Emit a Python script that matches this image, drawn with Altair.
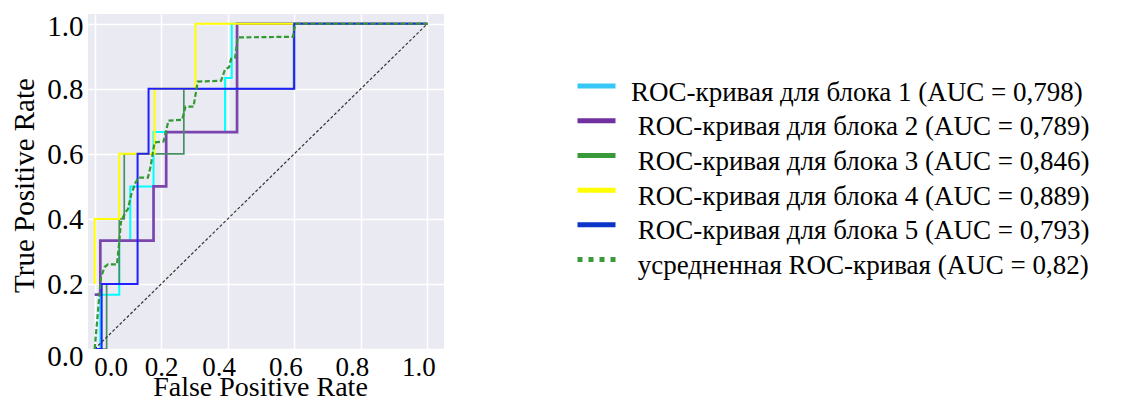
import altair as alt
import pandas as pd

# ---------------- data ----------------
series_names = [
    "ROC-кривая для блока 1 (AUC = 0,798)",
    "\u200b\u00a0ROC-кривая для блока 2 (AUC = 0,789)",
    "\u200b\u00a0ROC-кривая для блока 3 (AUC = 0,846)",
    "\u200b\u00a0ROC-кривая для блока 4 (AUC = 0,889)",
    "\u200b\u00a0ROC-кривая для блока 5 (AUC = 0,793)",
    "\u200b\u00a0усредненная ROC-кривая (AUC = 0,82)",
]

fpr_fold1 = [0.0, 0.017, 0.017, 0.074, 0.074, 0.107, 0.107, 0.177, 0.177, 0.392, 0.392, 0.412, 0.412, 1.0]
tpr_fold1 = [0.0, 0.0, 0.167, 0.167, 0.333, 0.333, 0.5, 0.5, 0.667, 0.667, 0.833, 0.833, 1.0, 1.0]

fpr_fold2 = [0.0, 0.017, 0.017, 0.177, 0.177, 0.215, 0.215, 0.428, 0.428, 1.0]
tpr_fold2 = [0.167, 0.167, 0.333, 0.333, 0.5, 0.5, 0.667, 0.667, 1.0, 1.0]

fpr_fold3 = [0.0, 0.036, 0.036, 0.074, 0.074, 0.089, 0.089, 0.268, 0.268, 0.598, 0.598, 1.0]
tpr_fold3 = [0.0, 0.0, 0.2, 0.2, 0.4, 0.4, 0.6, 0.6, 0.8, 0.8, 1.0, 1.0]

fpr_fold4 = [0.0, 0.0, 0.074, 0.074, 0.18, 0.18, 0.303, 0.303, 1.0]
tpr_fold4 = [0.2, 0.4, 0.4, 0.6, 0.6, 0.8, 0.8, 1.0, 1.0]

fpr_fold5 = [0.0, 0.021, 0.021, 0.129, 0.129, 0.162, 0.162, 0.6, 0.6, 1.0]
tpr_fold5 = [0.0, 0.0, 0.2, 0.2, 0.6, 0.6, 0.8, 0.8, 1.0, 1.0]

fpr_mean = [0.0, 0.019, 0.03, 0.04, 0.067, 0.074, 0.079, 0.092, 0.1, 0.11,
            0.122, 0.132, 0.16, 0.168, 0.18, 0.207, 0.222, 0.263, 0.273, 0.297,
            0.31, 0.38, 0.392, 0.404, 0.41, 0.422, 0.43, 0.596, 0.603, 1.0]
tpr_mean = [0.0, 0.22, 0.252, 0.26, 0.26, 0.33, 0.39, 0.42, 0.43, 0.475,
            0.51, 0.527, 0.527, 0.56, 0.635, 0.638, 0.702, 0.705, 0.745, 0.745,
            0.822, 0.825, 0.86, 0.866, 0.892, 0.895, 0.958, 0.96, 1.0, 1.0]

fpr_chance = [0.0, 1.0]
tpr_chance = [0.0, 1.0]

tick_values = [0.0, 0.2, 0.4, 0.6, 0.8, 1.0]

# ---------------- styles ----------------
line_colors = ["#00ffff", "#7a45ad", "#4a8f63", "#ffff00", "#1f1fff"]
line_widths = [2.0, 2.7, 1.7, 2.0, 2.0]
legend_colors = ["#38c8f8", "#7030a0", "#3a9a3a", "#ffff00", "#0b34c8", "#3a9a3a"]
legend_dashes = [[1, 0], [1, 0], [1, 0], [1, 0], [1, 0], [5, 6]]
FONT = "Liberation Serif"

fold_fprs = [fpr_fold1, fpr_fold2, fpr_fold3, fpr_fold4, fpr_fold5]
fold_tprs = [tpr_fold1, tpr_fold2, tpr_fold3, tpr_fold4, tpr_fold5]

rows = []
for name, fx, fy in zip(series_names[:5], fold_fprs, fold_tprs):
    for i, (a, b) in enumerate(zip(fx, fy)):
        rows.append({"series": name, "fpr": a, "tpr": b, "idx": i})
fold_df = pd.DataFrame(rows)

mean_df = pd.DataFrame({"series": series_names[5], "fpr": fpr_mean, "tpr": tpr_mean,
                        "idx": list(range(len(fpr_mean)))})
all_df = pd.concat([fold_df, mean_df], ignore_index=True)
chance_df = pd.DataFrame({"fpr": fpr_chance, "tpr": tpr_chance, "idx": [0, 1]})

x_scale = alt.Scale(domain=[-0.02, 1.05], nice=False, zero=False)
y_scale = alt.Scale(domain=[0.0, 1.03], nice=False, zero=False)
fold_color_scale = alt.Scale(domain=series_names[:5], range=line_colors)

x_axis = alt.Axis(
    values=tick_values, format=".1f", grid=True, gridColor="white", gridWidth=1.5,
    domain=False, ticks=False, tickSize=0, labelFont=FONT, labelFontSize=27,
    labelColor="black", labelPadding=5, labelFlush=False, labelOverlap=False,
    labelOffset={"condition": [{"test": "datum.value < 0.1", "value": 16},
                               {"test": "datum.value < 0.3", "value": 0}],
                 "value": -9},
    title="False Positive Rate", titleFont=FONT, titleFontSize=28,
    titleFontWeight="normal", titleColor="black", titleX=172, titleY=46,
    titleBaseline="alphabetic", titleAlign="center",
)
y_axis = alt.Axis(
    values=tick_values, format=".1f", grid=True, gridColor="white", gridWidth=1.5,
    domain=False, ticks=False, tickSize=0, labelFont=FONT, labelFontSize=29,
    labelColor="black", labelPadding=5, labelFlush=False, labelOverlap=False,
    labelOffset={"condition": [{"test": "datum.value < 0.1", "value": 7},
                               {"test": "datum.value > 0.9", "value": 3}],
                 "value": 1},
    title="True Positive Rate", titleFont=FONT, titleFontSize=29,
    titleFontWeight="normal", titleColor="black", titleX=-55, titleY=171,
    titleAngle=270, titleBaseline="alphabetic", titleAlign="center",
)

# one layer per fold (drawing order 1..5, fold-specific line width)
fold_layers = []
for k, name in enumerate(series_names[:5]):
    enc = dict(
        x=alt.X("fpr:Q", scale=x_scale, axis=x_axis) if k == 0 else alt.X("fpr:Q"),
        y=alt.Y("tpr:Q", scale=y_scale, axis=y_axis) if k == 0 else alt.Y("tpr:Q"),
        color=alt.Color("series:N", scale=fold_color_scale, legend=None),
        order=alt.Order("idx:Q"),
    )
    fold_layers.append(
        alt.Chart(fold_df[fold_df["series"] == name])
        .mark_line(clip=True, strokeWidth=line_widths[k])
        .encode(**enc)
    )

leg = alt.Legend(
    title=None, orient="none", legendX=495, legendY=65, direction="vertical",
    symbolType="M-2,-0.68H2", symbolSize=361, symbolStrokeWidth=5, symbolOpacity=1,
    labelFont=FONT, labelFontSize=27, labelColor="black", labelLimit=800,
    labelOffset=21, labelBaseline="middle", rowPadding=4.7,
)

legend_layer = alt.Chart(all_df).mark_line(opacity=0, clip=True).encode(
    x=alt.X("fpr:Q"),
    y=alt.Y("tpr:Q"),
    stroke=alt.Stroke("series:N", sort=series_names,
                      scale=alt.Scale(domain=series_names, range=legend_colors), legend=leg),
    strokeDash=alt.StrokeDash("series:N", sort=series_names,
                              scale=alt.Scale(domain=series_names, range=legend_dashes), legend=leg),
    order=alt.Order("idx:Q"),
)

mean_line = alt.Chart(mean_df).mark_line(
    clip=True, color="#339933", strokeWidth=2.2, strokeDash=[5, 2.5]
).encode(
    x=alt.X("fpr:Q"),
    y=alt.Y("tpr:Q"),
    order=alt.Order("idx:Q"),
)

chance_line = alt.Chart(chance_df).mark_line(
    clip=True, color="#333333", strokeWidth=1.2, strokeDash=[3, 2]
).encode(
    x=alt.X("fpr:Q"),
    y=alt.Y("tpr:Q"),
    order=alt.Order("idx:Q"),
)

chart = alt.layer(*fold_layers, legend_layer, chance_line, mean_line).properties(
    width=356,
    height=335,
    autosize=alt.AutoSizeParams(type="none"),
    padding={"left": 80, "top": 6, "right": 682, "bottom": 48},
    background="white",
).configure_view(fill="#EAEAF2", strokeWidth=0)

chart.save("out.html", embed_options={"renderer": "svg", "actions": False})
